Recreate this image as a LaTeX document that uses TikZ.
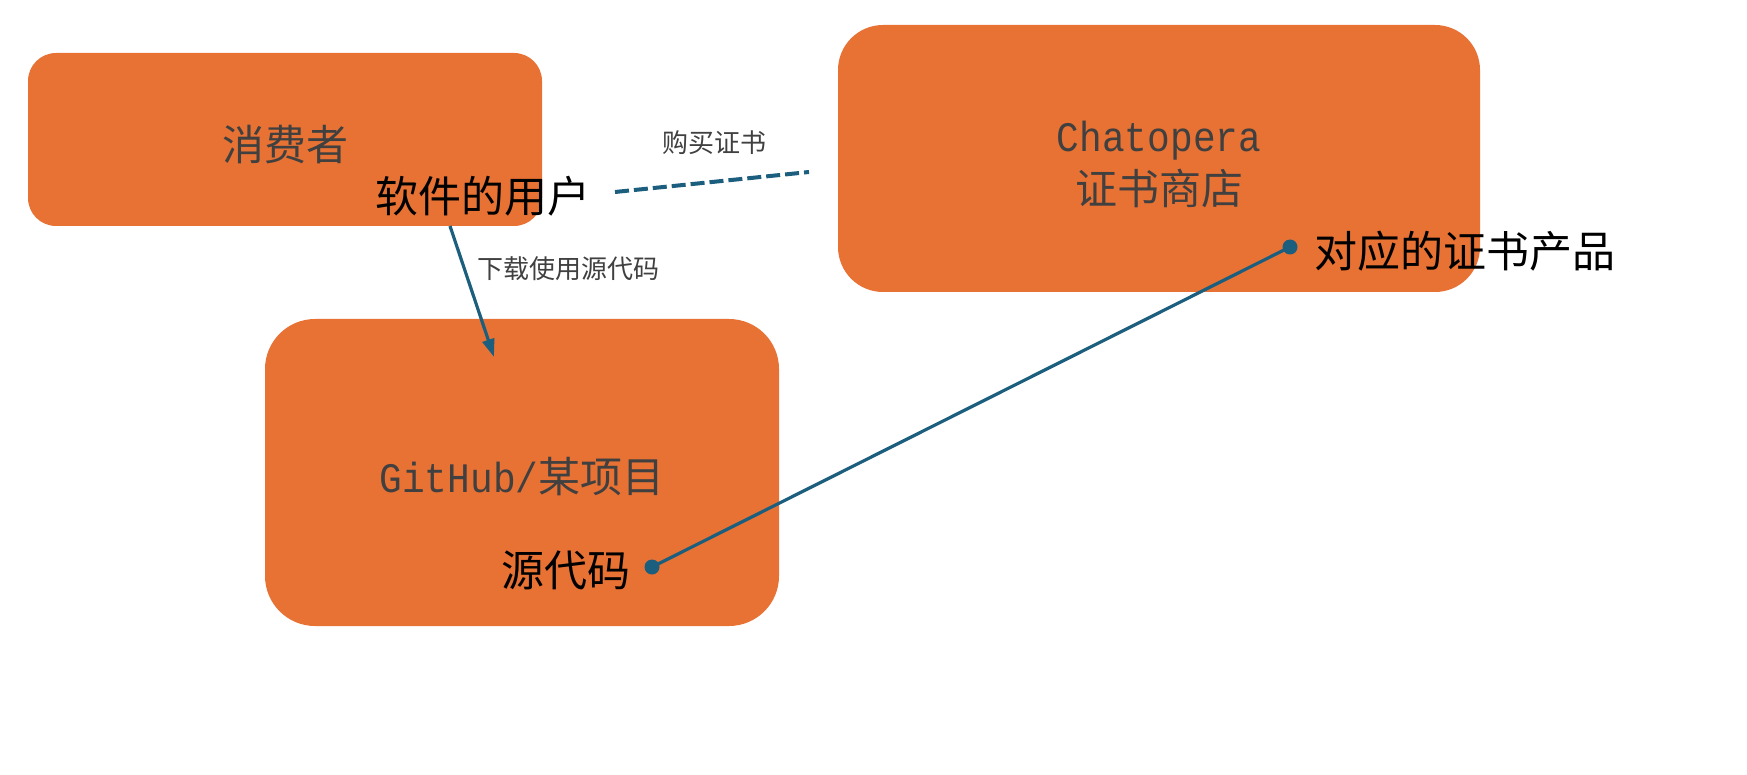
\documentclass[tikz,border=0pt]{standalone}
\usepackage{fontspec}
\setmainfont{Noto Sans CJK SC}
\newfontfamily\mono{Liberation Mono}[FakeStretch=0.9]
\usetikzlibrary{arrows.meta}
\definecolor{boxorange}{RGB}{232,114,52}
\definecolor{linkblue}{RGB}{27,94,126}
\definecolor{boxtext}{RGB}{64,64,64}
\tikzset{
  card/.style={fill=boxorange, draw=none, inner sep=0pt},
  cardtitle/.style={inner sep=0pt, align=center, text=boxtext,
    font=\fontsize{42}{53}\selectfont},
  bigtag/.style={inner sep=0pt, text=black, font=\fontsize{43}{50}\selectfont},
  smalltag/.style={inner sep=0pt, text=boxtext, font=\fontsize{26}{30}\selectfont},
  link/.style={draw=linkblue, line width=3.2pt},
  dotend/.style={circle, fill=linkblue, inner sep=0pt, minimum size=15pt},
}
\begin{document}
\begin{tikzpicture}[x=1pt, y=-1pt]
\useasboundingbox (0,0) rectangle (1747,775);
% boxes
\node[card, rounded corners=28pt, minimum width=514pt, minimum height=173pt] (consumer) at (285,139.5) {};
\node[card, rounded corners=45pt, minimum width=642pt, minimum height=267pt] (store) at (1159,158.5) {};
\node[card, rounded corners=50pt, minimum width=514pt, minimum height=307pt] (github) at (522,472.5) {};
\node[cardtitle] (consumertitle) at ([yshift=-5pt]consumer.center) {消费者};
\node[cardtitle] (storetitle) at ([yshift=-6pt]store.center) {{\mono Chatopera}\\证书商店};
\node[cardtitle] (githubtitle) at ([yshift=-4pt]github.center) {{\mono GitHub/}某项目};
% tags
\node[bigtag] (user) at (483,196) {软件的用户};
\node[bigtag] (product) at (1465,251) {对应的证书产品};
\node[bigtag] (source) at (566,570) {源代码};
\node[smalltag] (buy) at (714,143) {购买证书};
\node[smalltag] (download) at (568,269) {下载使用源代码};
% connectors
\coordinate (dlstart) at (450,226);
\coordinate (dlend) at (494,357);
\draw[link, -{Triangle[length=18pt,width=12pt]}] (dlstart) -- (dlend);
\coordinate (buystart) at (615,192);
\coordinate (buyend) at (809,172);
\draw[draw=linkblue, line width=4pt, dash pattern=on 14pt off 5pt] (buystart) -- (buyend);
\node[dotend] (dotsrc) at (652,567) {};
\node[dotend] (dotprod) at (1290,247) {};
\draw[link] (dotsrc.center) -- (dotprod.center);
\end{tikzpicture}
\end{document}
